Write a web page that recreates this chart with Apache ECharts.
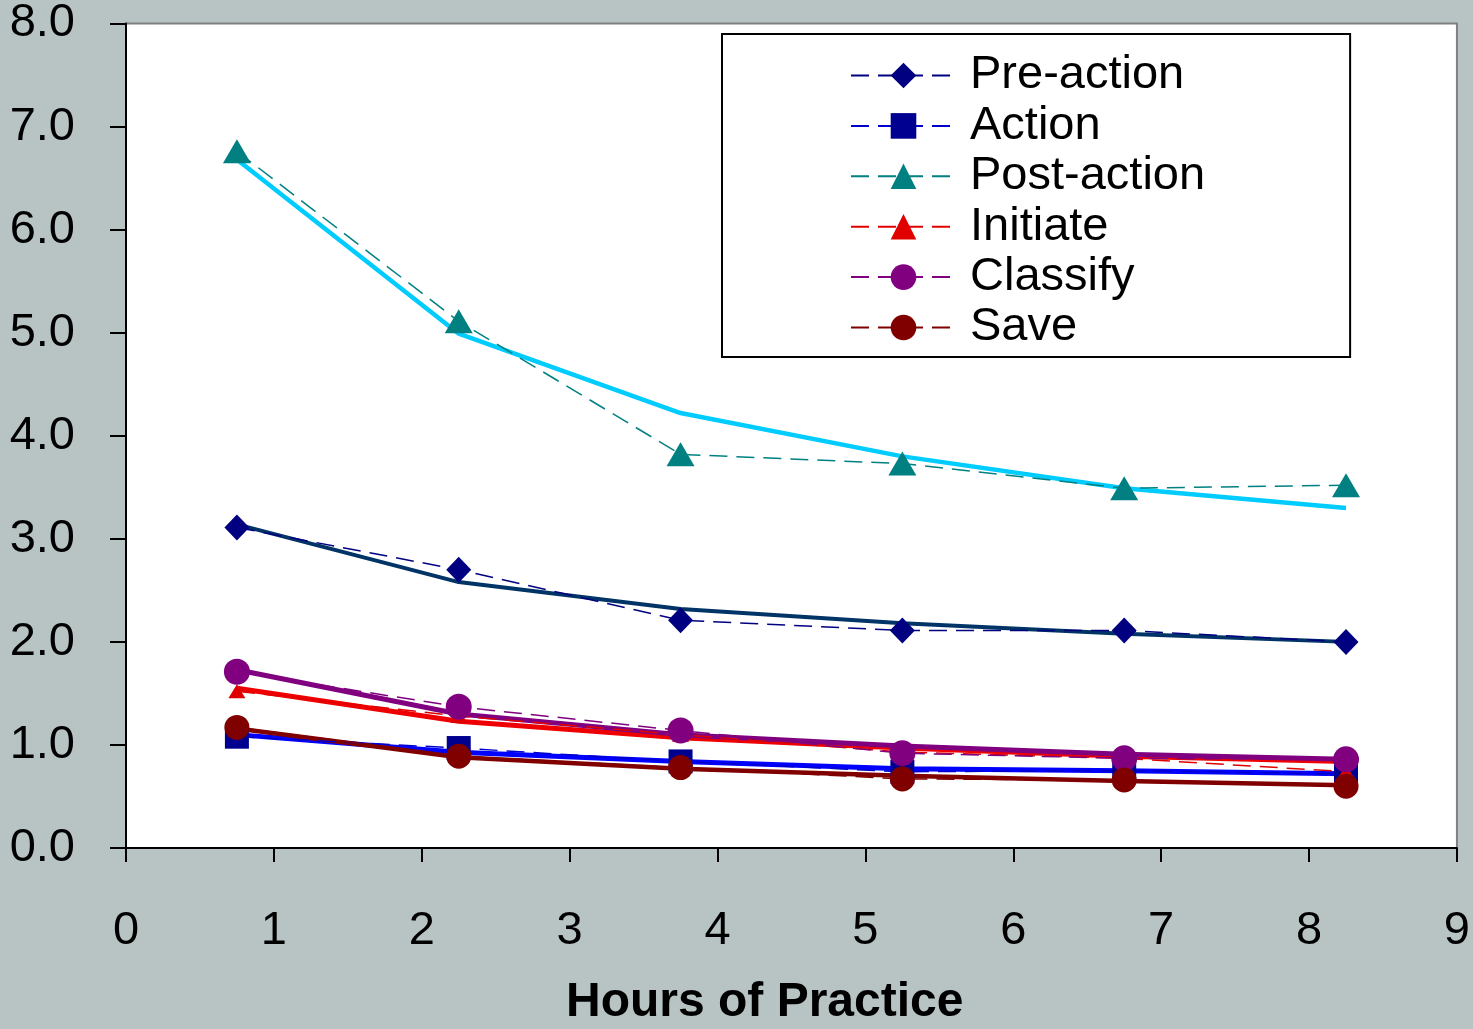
<!DOCTYPE html>
<html>
<head>
<meta charset="utf-8">
<title>Hours of Practice</title>
<script src="https://cdn.jsdelivr.net/npm/echarts@6/dist/echarts.min.js"></script>
<style>
  html, body { margin: 0; padding: 0; background: #b8c4c4; }
  #chart { width: 1473px; height: 1029px; }
</style>
</head>
<body>
<div id="chart"></div>
<script>
// Practice hours at which each block was measured
const hours = [0.75, 2.25, 3.75, 5.25, 6.75, 8.25];

// Measured times per phase
const preAction  = [3.11, 2.70, 2.21, 2.11, 2.11, 2.00];
const action     = [1.08, 0.97, 0.84, 0.74, 0.75, 0.72];
const postAction = [6.76, 5.11, 3.82, 3.73, 3.49, 3.52];
const initiate   = [1.52, 1.28, 1.10, 0.93, 0.87, 0.74];
const classify   = [1.71, 1.37, 1.14, 0.92, 0.87, 0.86];
const save       = [1.17, 0.89, 0.78, 0.67, 0.66, 0.60];

// Fitted learning curves evaluated at the same hours
const preActionFit  = [3.14, 2.58, 2.32, 2.18, 2.08, 2.00];
const actionFit     = [1.10, 0.93, 0.84, 0.77, 0.75, 0.72];
const postActionFit = [6.68, 4.99, 4.22, 3.80, 3.49, 3.30];
const initiateFit   = [1.55, 1.23, 1.07, 0.97, 0.89, 0.84];
const classifyFit   = [1.73, 1.30, 1.10, 0.99, 0.91, 0.86];
const saveFit       = [1.16, 0.88, 0.77, 0.70, 0.65, 0.61];

const xTicks = [0, 1, 2, 3, 4, 5, 6, 7, 8, 9];
const yTicks = [0, 1, 2, 3, 4, 5, 6, 7, 8];

const FONT = '"Liberation Sans", Arial, Helvetica, sans-serif';

const pairs = vals => vals.map((v, i) => [hours[i], v]);

function measured(name, vals, lineColor, fill, symbol, size) {
  return {
    name: name,
    type: 'line',
    data: pairs(vals),
    z: 3,
    symbol: symbol,
    symbolSize: size,
    showSymbol: true,
    lineStyle: { color: lineColor, width: 1.5, type: [18, 9] },
    itemStyle: { color: fill, borderColor: fill, borderWidth: 0, opacity: 1 },
    emphasis: { disabled: true },
    animation: false
  };
}

function fitted(name, vals, color, width) {
  return {
    name: name,
    type: 'line',
    data: pairs(vals),
    z: 2,
    symbol: 'none',
    lineStyle: { color: color, width: width },
    emphasis: { disabled: true },
    animation: false
  };
}

const series = [
  fitted('Pre-action fit', preActionFit, '#003366', 4),
  fitted('Action fit', actionFit, '#0000ff', 5),
  fitted('Post-action fit', postActionFit, '#00ccff', 4.5),
  fitted('Initiate fit', initiateFit, '#ee0000', 5),
  fitted('Classify fit', classifyFit, '#800080', 5),
  fitted('Save fit', saveFit, '#800000', 4.5),
  measured('Pre-action', preAction, '#000080', '#000080', 'diamond', [25, 26]),
  measured('Action', action, '#0000cc', '#000090', 'rect', 24),
  measured('Post-action', postAction, '#008080', '#008080', 'triangle', [28, 24]),
  measured('Initiate', initiate, '#e00000', '#e00000', 'triangle', [17, 14]),
  measured('Classify', classify, '#800080', '#800080', 'circle', 26),
  measured('Save', save, '#800000', '#800000', 'circle', 25)
];

const chart = echarts.init(document.getElementById('chart'), null, { renderer: 'canvas' });

chart.setOption({
  backgroundColor: '#b8c4c4',
  animation: false,
  textStyle: { fontFamily: FONT },
  grid: {
    left: 126, right: 16, top: 18, bottom: 181,
    show: true,
    backgroundColor: '#ffffff',
    borderColor: '#808080',
    borderWidth: 2,
    containLabel: false
  },
  xAxis: {
    type: 'value',
    min: xTicks[0],
    max: xTicks[xTicks.length - 1],
    interval: 1,
    axisLine: { show: true, onZero: false, lineStyle: { color: '#000', width: 2 } },
    axisTick: { show: true, inside: false, length: 14, lineStyle: { color: '#000', width: 2 } },
    axisLabel: { color: '#000', fontSize: 47, fontFamily: FONT, margin: 60 },
    splitLine: { show: false }
  },
  yAxis: {
    type: 'value',
    min: yTicks[0],
    max: yTicks[yTicks.length - 1],
    interval: 1,
    axisLine: { show: true, onZero: false, lineStyle: { color: '#000', width: 2 } },
    axisTick: { show: true, inside: false, length: 16, lineStyle: { color: '#000', width: 2 } },
    axisLabel: {
      color: '#000', fontSize: 47, fontFamily: FONT, margin: 51,
      formatter: v => v.toFixed(1)
    },
    splitLine: { show: false }
  },
  legend: {
    data: ['Pre-action', 'Action', 'Post-action', 'Initiate', 'Classify', 'Save'],
    orient: 'vertical',
    left: 722,
    top: 34,
    padding: [18, 145, 6, 128],
    backgroundColor: '#ffffff',
    borderColor: '#000000',
    borderWidth: 2,
    borderRadius: 0,
    itemWidth: 105,
    itemHeight: 32,
    itemGap: 3.4,
    selectedMode: false,
    textStyle: {
      color: '#000', fontSize: 47, fontFamily: FONT,
      lineHeight: 46, padding: [0, 0, 0, 9]
    }
  },
  graphic: [{
    type: 'text',
    left: 566,
    top: 979,
    style: {
      text: 'Hours of Practice',
      font: 'bold 48px ' + FONT,
      fill: '#000'
    }
  }],
  series: series
});
</script>
</body>
</html>
